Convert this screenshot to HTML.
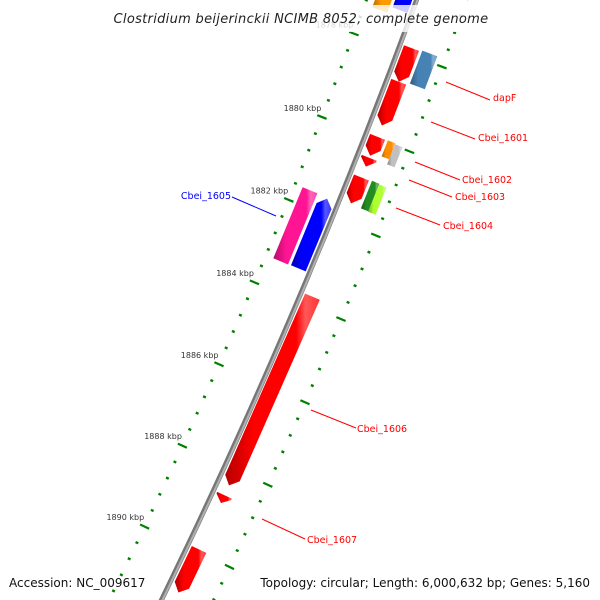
<!DOCTYPE html>
<html><head><meta charset="utf-8"><style>
html,body{margin:0;padding:0;background:#fff;overflow:hidden;width:600px;height:600px;}
svg{display:block;overflow:hidden;}
text{font-family:"DejaVu Sans","Liberation Sans",sans-serif;}
</style></head><body>
<svg id="map" width="600" height="600" viewBox="0 0 600 600">
<g id="ticks"></g>
<g id="backbone"></g>
<g id="features"></g>
<g id="labels"></g>
<rect x="0" y="5" width="600" height="27" fill="#fff" fill-opacity="0.8"/>
<text x="301" y="23" text-anchor="middle" font-size="13" font-style="italic" fill="#222" letter-spacing="0.3">Clostridium beijerinckii NCIMB 8052, complete genome</text>
<text x="9" y="587" font-size="12" fill="#111">Accession: NC_009617</text>
<text x="590" y="587" font-size="12" fill="#111" text-anchor="end">Topology: circular; Length: 6,000,632 bp; Genes: 5,160</text>
</svg>
<script>
// ---- data ----
const featNames  = ["top-orange","top-blue","dapF","dapF-partner","Cbei_1601","Cbei_1602","Cbei_1602-orange","Cbei_1602-gray","Cbei_1603","Cbei_1604","Cbei_1604-green","Cbei_1604-lime","Cbei_1605","Cbei_1605-blue","Cbei_1606","Cbei_1607","next-gene"];
const featStart  = [1876.3,1876.3,1877.85,1877.82,1878.65,1879.96,1879.95,1879.97,1880.46,1880.93,1880.91,1880.93,1881.62,1881.65,1883.79,1888.61,1889.94];
const featEnd    = [1877.3,1877.15,1878.65,1878.60,1879.69,1880.41,1880.33,1880.45,1880.67,1881.55,1881.57,1881.58,1883.34,1883.33,1888.37,1888.80,1891.0];
const featStrand = [-1,-1,1,1,1,1,1,1,1,1,1,1,-1,-1,1,1,1];
const featSlot   = [2,1,1,2,1,1,2,2,1,1,2,2,2,1,1,1,1];
const featArrow  = [0,0,1,0,1,1,0,0,1,1,0,0,0,1,1,1,1];
const featColor  = ["#ff9900","#0000ff","#ff0000","#4682b4","#ff0000","#ff0000","#ff8c00","#c0c0c0","#ff0000","#ff0000","#228b22","#adff2f","#ff1493","#0000ff","#ff0000","#ff0000","#ff0000"];
const featHalf   = [0,0,0,0,0,0,1,2,0,0,1,2,0,0,0,0,0];
const majorTicks = [1878,1880,1882,1884,1886,1888,1890];
const tickLabels = ["1878 kbp","1880 kbp","1882 kbp","1884 kbp","1886 kbp","1888 kbp","1890 kbp"];
const labelText  = ["dapF","Cbei_1601","Cbei_1602","Cbei_1603","Cbei_1604","Cbei_1605","Cbei_1606","Cbei_1607"];
const labelColor = ["#f00","#f00","#f00","#f00","#f00","#00f","#f00","#f00"];

// ---- geometry ----
const CX=-5573, CY=-2192, R=6378;
const NS="http://www.w3.org/2000/svg";
function ang(k){return (21.39+(k-1880)*0.404)*Math.PI/180;}
function pt(k,r){const a=ang(k);return [CX+r*Math.cos(a),CY+r*Math.sin(a)];}
function mk(tag,attrs,parent){const e=document.createElementNS(NS,tag);for(const k in attrs)e.setAttribute(k,attrs[k]);parent.appendChild(e);return e;}
function f(p){return p[0].toFixed(1)+","+p[1].toFixed(1);}

// backbone
const bb=document.getElementById('backbone');
let bpts=[];for(let k=1876;k<=1891.5;k+=0.5)bpts.push(f(pt(k,R)));
let bl=mk('polyline',{points:bpts.join(' '),fill:'none',stroke:'#777','stroke-width':5},bb);


let bl2=mk('polyline',{points:bpts.join(' '),fill:'none',stroke:'#b0b0b0','stroke-width':2,transform:'translate(1,0)'},bb);



// ticks
const tg=document.getElementById('ticks');
for(const ring of [-47,47]){
  for(let i=0;i<=40;i++){
    const k=1876+i*0.4;
    const maj=Math.abs(Math.round(k/2)*2-k)<0.01;
    const a=pt(k,R+ring-(maj?5:1.5)),b=pt(k,R+ring+(maj?5:1.5));
    let l=mk('line',{x1:a[0],y1:a[1],x2:b[0],y2:b[1],stroke:'#008000','stroke-width':maj?2.2:2.4},tg);
    
    
  }
}
majorTicks.forEach((k,i)=>{
  const p=pt(k,R-47-6);
  let t=mk('text',{x:p[0]+5,y:p[1]-4,'font-size':8,fill:'#333','text-anchor':'end'},tg);
  t.textContent=tickLabels[i];
  
  
});

// features
const fg=document.getElementById('features');
const defs=mk('defs',{},fg);
function shade(c,amt){const n=parseInt(c.slice(1),16);let r=n>>16,g=(n>>8)&255,b=n&255;
  const m=v=>Math.max(0,Math.min(255,Math.round(amt<0?v*(1+amt):v+(255-v)*amt)));
  return 'rgb('+m(r)+','+m(g)+','+m(b)+')';}
featNames.forEach((nm,i)=>{
  const s=featSlot[i], st=featStrand[i];
  let r1=s===1?4:23, r2=s===1?20:39;
  if(featHalf[i]===1){r2=r1+8;} if(featHalf[i]===2){r1=r1+8;}
  let ri=R+st*r1, ro=R+st*r2;
  const inn=Math.min(ri,ro), out=Math.max(ri,ro), mid=(inn+out)/2;
  const gid='g'+i;
  const gr=mk('linearGradient',{id:gid,x1:'0',y1:'0.5',x2:'1',y2:'0.5'},defs);
  const c=featColor[i];
  [[0,shade(c,-0.3)],[0.3,c],[0.75,c],[0.85,shade(c,0.35)],[1,shade(c,0.2)]].forEach(sv=>mk('stop',{offset:sv[0],'stop-color':sv[1]},gr));
  const a=featStart[i], b=featEnd[i], head=Math.min(0.18,(b-a)*0.8);
  let pts=[];
  if(featArrow[i]&&st===1){
    const e=b-head;
    pts=[pt(a,inn),pt(a,out),pt(e,out),pt(b,mid),pt(e,inn)];
  }else if(featArrow[i]&&st===-1){
    const e=a+head;
    pts=[pt(a,mid),pt(e,out),pt(b,out),pt(b,inn),pt(e,inn)];
  }else{
    pts=[pt(a,inn),pt(a,out),pt(b,out),pt(b,inn)];
  }
  let p=mk('polygon',{points:pts.map(f).join(' '),fill:'url(#'+gid+')'},fg);
  
  
});

// labels (leader lines)
const lg=document.getElementById('labels');
const leaderPos=[[446,82,490,100,493,101,'start'],[431,122,475,139,478,141,'start'],[415,162,460,180,462,183,'start'],[409,180,452,197,455,200,'start'],[396,208,440,225,443,229,'start'],[276,216,232,197,231,199,'end'],[311,410,356,428,357,432,'start'],[262,519,305,539,307,543,'start']];
labelText.forEach((t,i)=>{
  const q=leaderPos[i];
  let l=mk('line',{x1:q[0],y1:q[1],x2:q[2],y2:q[3],stroke:labelColor[i],'stroke-width':1},lg);
  
  
  let tx=mk('text',{x:q[4],y:q[5],'font-size':9.5,fill:labelColor[i],'text-anchor':q[6]},lg);
  tx.textContent=t;
  
  
});
</script>
</body></html>
